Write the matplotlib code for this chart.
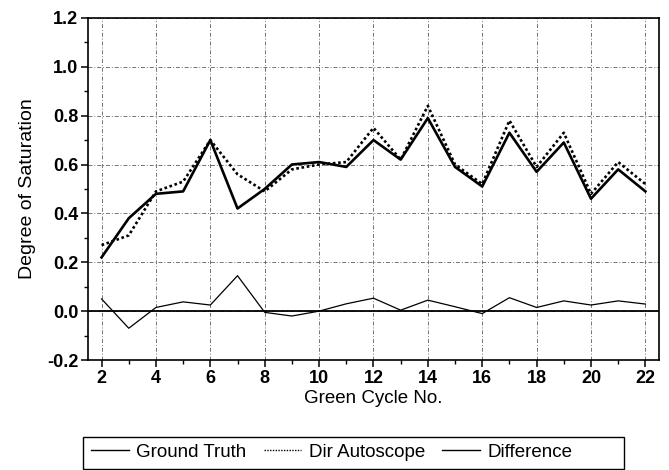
import numpy as np
from matplotlib import pyplot as plt
from matplotlib.patches import Rectangle
from matplotlib.lines import Line2D
from matplotlib.ticker import MultipleLocator

plt.rcParams['font.family'] = ['Liberation Sans', 'DejaVu Sans']

cycle = list(range(2, 23))
ground_truth = [0.22, 0.38, 0.48, 0.49, 0.70, 0.42, 0.50, 0.60, 0.61, 0.59, 0.70,
                0.62, 0.79, 0.59, 0.51, 0.73, 0.57, 0.69, 0.46, 0.58, 0.49]
dir_autoscope = [0.27, 0.31, 0.49, 0.53, 0.70, 0.56, 0.49, 0.58, 0.60, 0.61, 0.75,
                 0.62, 0.84, 0.60, 0.52, 0.78, 0.59, 0.73, 0.48, 0.61, 0.52]
difference = [0.05, -0.07, 0.015, 0.038, 0.025, 0.145, -0.005, -0.02, 0.0, 0.03, 0.053,
              0.004, 0.045, 0.018, -0.01, 0.055, 0.015, 0.042, 0.025, 0.042, 0.029]

fig = plt.figure(figsize=(6.69, 4.70), dpi=100)
ax = fig.add_axes([0.1315, 0.234, 0.8535, 0.728])

# grid first so lines sit on top
ax.grid(True, which='major', color='0.45', linestyle=(0, (4, 2, 1, 2)), linewidth=0.7)
ax.axhline(0, color='black', linewidth=1.3)

ax.plot(cycle, ground_truth, color='black', linewidth=1.9, label='Ground Truth')
ax.plot(cycle, dir_autoscope, color='black', linewidth=1.9, linestyle=(0, (1, 1)),
        label='Dir Autoscope')
ax.plot(cycle, difference, color='black', linewidth=0.9, label='Difference')

ax.set_xlim(1.5, 22.5)
ax.set_ylim(-0.2, 1.2)
ax.xaxis.set_major_locator(MultipleLocator(2))
ax.xaxis.set_minor_locator(MultipleLocator(1))
ax.yaxis.set_major_locator(MultipleLocator(0.2))
ax.yaxis.set_minor_locator(MultipleLocator(0.1))
ax.yaxis.set_major_formatter(lambda v, p: '%.1f' % v)

ax.tick_params(which='major', direction='out', length=5, width=1.1, labelsize=13, pad=2)
ax.tick_params(which='minor', direction='out', length=3, width=1.0)
for lab in ax.get_xticklabels() + ax.get_yticklabels():
    lab.set_fontweight('bold')
for sp in ax.spines.values():
    sp.set_linewidth(1.2)

ax.set_xlabel('Green Cycle No.', fontsize=13.5, labelpad=2)
ax.set_ylabel('Degree of Saturation', fontsize=14, labelpad=8)

# legend box drawn as a figure-level frame, entries laid out inside it
fig.patches.append(Rectangle((83 / 669, 1 - 469 / 470), (624 - 83) / 669, (469 - 437) / 470,
                             transform=fig.transFigure, fill=False, edgecolor='black',
                             linewidth=1.0))
handles = [Line2D([], [], color='black', linewidth=1.0),
           Line2D([], [], color='black', linewidth=1.0, linestyle=(0, (1, 1))),
           Line2D([], [], color='black', linewidth=1.0)]
fig.legend(handles, ['Ground Truth', 'Dir Autoscope', 'Difference'], ncol=3,
           loc='center left', bbox_to_anchor=(91 / 669, 1 - 452 / 470), frameon=False,
           fontsize=13.5, handlelength=2.0, handletextpad=0.42, columnspacing=0.9,
           borderpad=0, borderaxespad=0)

fig.savefig('out.png', dpi=100)
